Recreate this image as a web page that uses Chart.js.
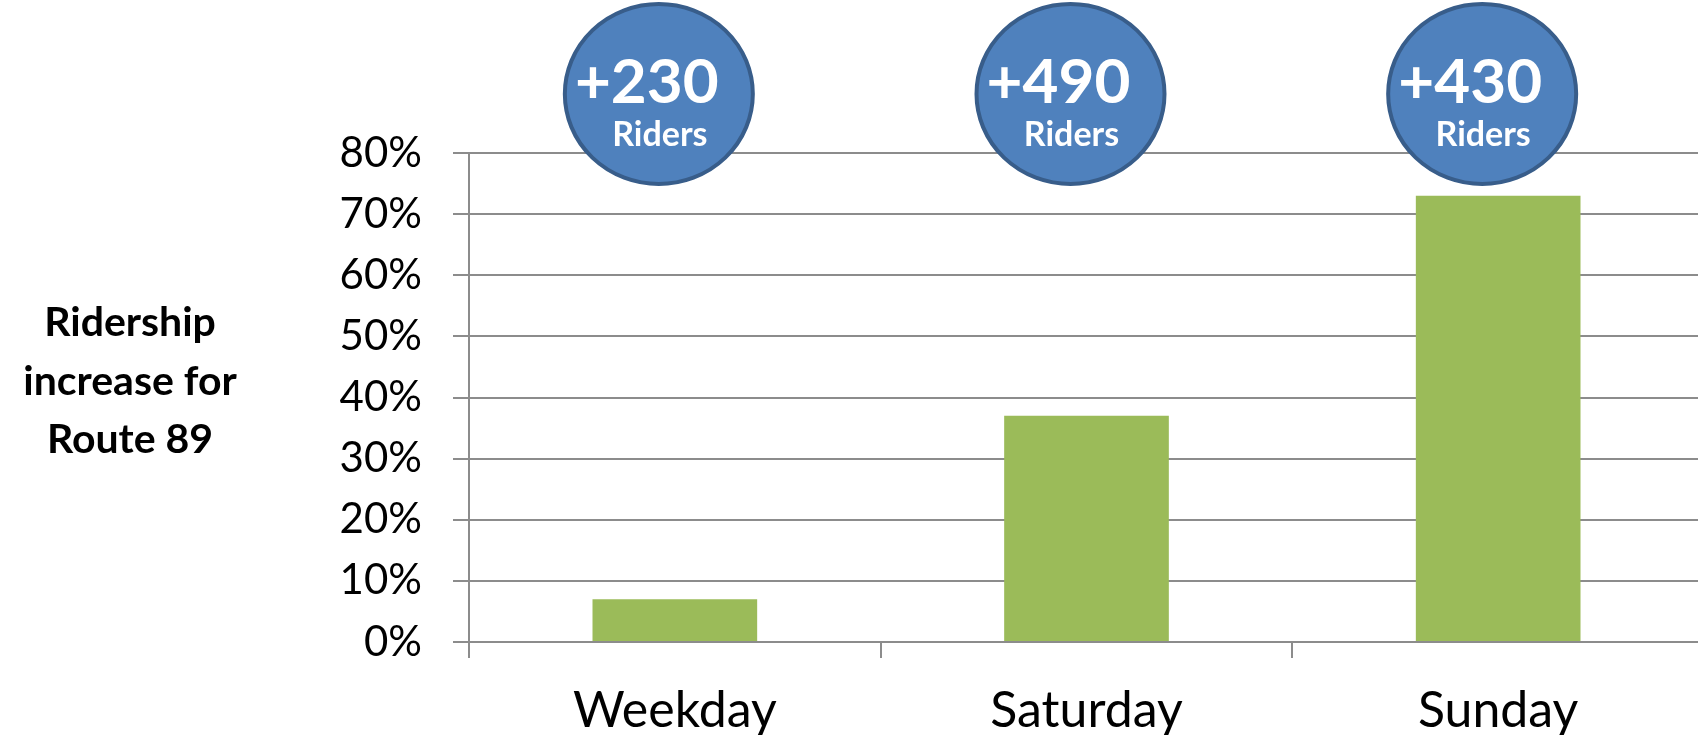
<!DOCTYPE html>
<html>
<head>
<meta charset="utf-8">
<script src="https://cdn.jsdelivr.net/npm/chart.js@4.4.1/dist/chart.umd.min.js"></script>
<style>
  html, body { margin: 0; padding: 0; background: #fff; overflow: hidden; }
  #wrap { width: 1704px; height: 735px; position: relative; }
</style>
</head>
<body>
<div id="wrap"><canvas id="ridershipChart"></canvas></div>
<script>
// Route 89 ridership increase by day type
const categories = ['Weekday', 'Saturday', 'Sunday'];
const increasePct = [7, 37, 73];
const riderGain = ['+230', '+490', '+430'];
const riderUnit = 'Riders';
const axisTitle = ['Ridership', 'increase for', 'Route 89'];
const yMin = 0, yMax = 80, yStep = 10;

const gridGray = '#8c8c8c';
const font = 'Lato';

// side title + rider bubbles above each bar
const overlayPlugin = {
  id: 'overlay',
  afterDraw(chart) {
    const c = chart.ctx;
    const top = chart.chartArea.top;
    c.save();
    c.fillStyle = '#000';
    c.textAlign = 'center';
    c.textBaseline = 'alphabetic';
    c.font = 'bold 41px ' + font;
    axisTitle.forEach((line, i) => c.fillText(line, 130, 336 + i * 58.5));

    const bars = chart.getDatasetMeta(0).data;
    bars.forEach((bar, i) => {
      const cx = bar.x - 16, cy = top - 59;
      c.beginPath();
      c.ellipse(cx, cy, 94, 90, 0, 0, Math.PI * 2);
      c.fillStyle = '#4f81bd';
      c.fill();
      c.lineWidth = 4;
      c.strokeStyle = '#385d8a';
      c.stroke();
      c.fillStyle = '#fff';
      c.font = 'bold 62px ' + font;
      c.fillText(riderGain[i], cx - 12, top - 50);
      c.font = 'bold 34px ' + font;
      c.fillText(riderUnit, cx + 1, top - 7);
    });
    c.restore();
  }
};

new Chart(document.getElementById('ridershipChart'), {
  type: 'bar',
  data: {
    labels: categories,
    datasets: [{
      data: increasePct,
      backgroundColor: '#9bbb59',
      categoryPercentage: 0.4,
      barPercentage: 1
    }]
  },
  options: {
    animation: false,
    responsive: true,
    maintainAspectRatio: false,
    layout: { padding: { top: 153, right: 0, bottom: 0, left: 0 } },
    plugins: { legend: { display: false }, tooltip: { enabled: false } },
    scales: {
      x: {
        afterFit(scale) { scale.height = 93; },
        grid: { offset: true, drawOnChartArea: false, color: gridGray, lineWidth: 2, tickLength: 16 },
        border: { display: false },
        ticks: { color: '#000', font: { family: font, size: 50 }, padding: 23 }
      },
      y: {
        min: yMin,
        max: yMax,
        afterFit(scale) { scale.width = 469; },
        grid: { color: gridGray, lineWidth: 2, tickLength: 16 },
        border: { display: true, color: gridGray, width: 2 },
        ticks: {
          stepSize: yStep,
          color: '#000',
          padding: 31,
          font: { family: font, size: 42 },
          callback: v => v + '%'
        }
      }
    }
  },
  plugins: [overlayPlugin]
});
</script>
</body>
</html>
